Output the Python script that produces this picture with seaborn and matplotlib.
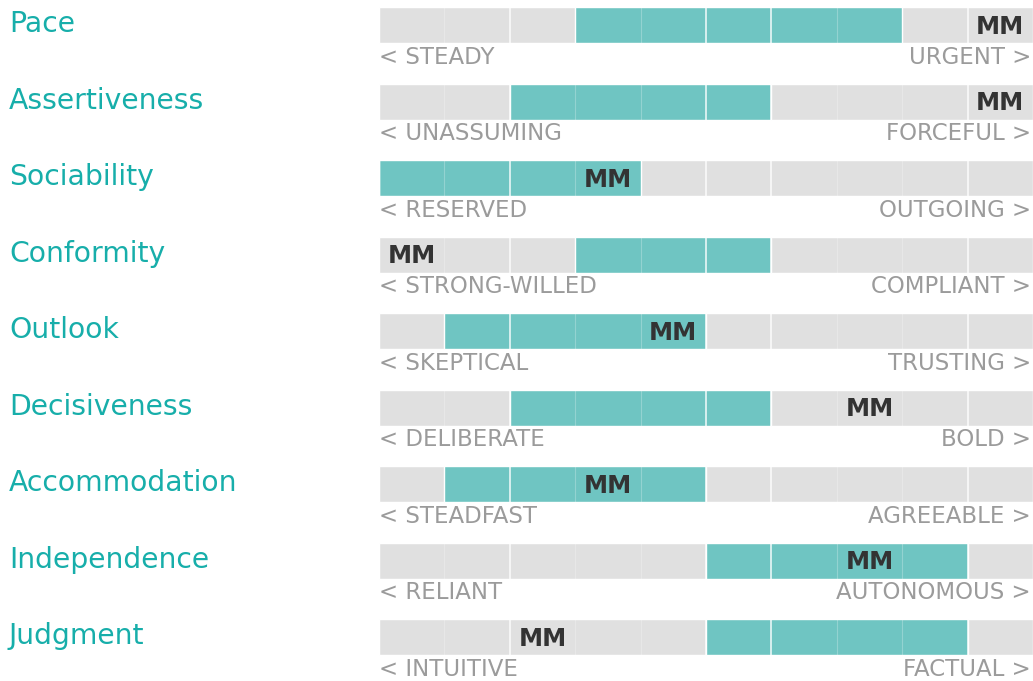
import numpy as np
import pandas as pd
import matplotlib
matplotlib.use("Agg")
import matplotlib.pyplot as plt
import seaborn as sns

traits = ["Pace", "Assertiveness", "Sociability", "Conformity", "Outlook",
          "Decisiveness", "Accommodation", "Independence", "Judgment"]
range_lo = [3, 2, 0, 3, 1, 2, 1, 5, 5]
range_hi = [8, 6, 4, 6, 5, 6, 5, 9, 9]
mm_score = [10, 10, 4, 1, 5, 8, 4, 8, 3]
low_labels = ["STEADY", "UNASSUMING", "RESERVED", "STRONG-WILLED", "SKEPTICAL",
              "DELIBERATE", "STEADFAST", "RELIANT", "INTUITIVE"]
high_labels = ["URGENT", "FORCEFUL", "OUTGOING", "COMPLIANT", "TRUSTING",
               "BOLD", "AGREEABLE", "AUTONOMOUS", "FACTUAL"]
scale_max = 10

TEAL_TEXT = "#17aeaa"
TEAL_BAR = "#6fc5c2"
TRACK = "#e0e0e0"
SUB = "#9b9b9b"
MM = "#333333"

sns.set_style("white")
plt.rcParams["font.family"] = ["DejaVu Sans"]

df = pd.DataFrame({"trait": traits, "lo": range_lo, "hi": range_hi,
                   "full": [scale_max] * len(traits)})

fig = plt.figure(figsize=(10.33, 6.81), dpi=100)
ax = fig.add_axes([0, 0, 1, 1])

px = 65.4  # pixels per scale unit
bh = 36 / 76.5
sns.barplot(data=df, x="full", y="trait", color=TRACK, width=bh, orient="h",
            saturation=1, ax=ax)
sns.barplot(data=df, x="hi", y="trait", color=TEAL_BAR, width=bh, orient="h",
            saturation=1, ax=ax)
sns.barplot(data=df, x="lo", y="trait", color=TRACK, width=bh, orient="h",
            saturation=1, ax=ax)

# segment dividers
for k in range(1, scale_max):
    strong = k in (2, 5, 6, 9)
    for i in range(len(traits)):
        ax.plot([k, k], [i - bh / 2, i + bh / 2], color="white",
                lw=1.2 if strong else 0.8, alpha=0.85 if strong else 0.25,
                solid_capstyle="butt", zorder=5)

for i, t in enumerate(traits):
    ax.text(-370 / px, i - 0.01, t, color=TEAL_TEXT, fontsize=20.3,
            va="center", ha="left")
    ax.text(0, i + 0.42, "< " + low_labels[i], color=SUB, fontsize=16.5,
            va="center", ha="left")
    ax.text(scale_max - 0.03, i + 0.42, high_labels[i] + " >", color=SUB,
            fontsize=16.5, va="center", ha="right")
    ax.text(mm_score[i] - 0.5, i + 0.02, "MM", color=MM, fontsize=17.5,
            fontweight="bold", va="center", ha="center", zorder=6)

ax.set_xlim(-379 / px, scale_max)
ax.set_ylim((681 - 25) / 76.5, -25 / 76.5)
ax.axis("off")

fig.savefig("out.png", dpi=100)
